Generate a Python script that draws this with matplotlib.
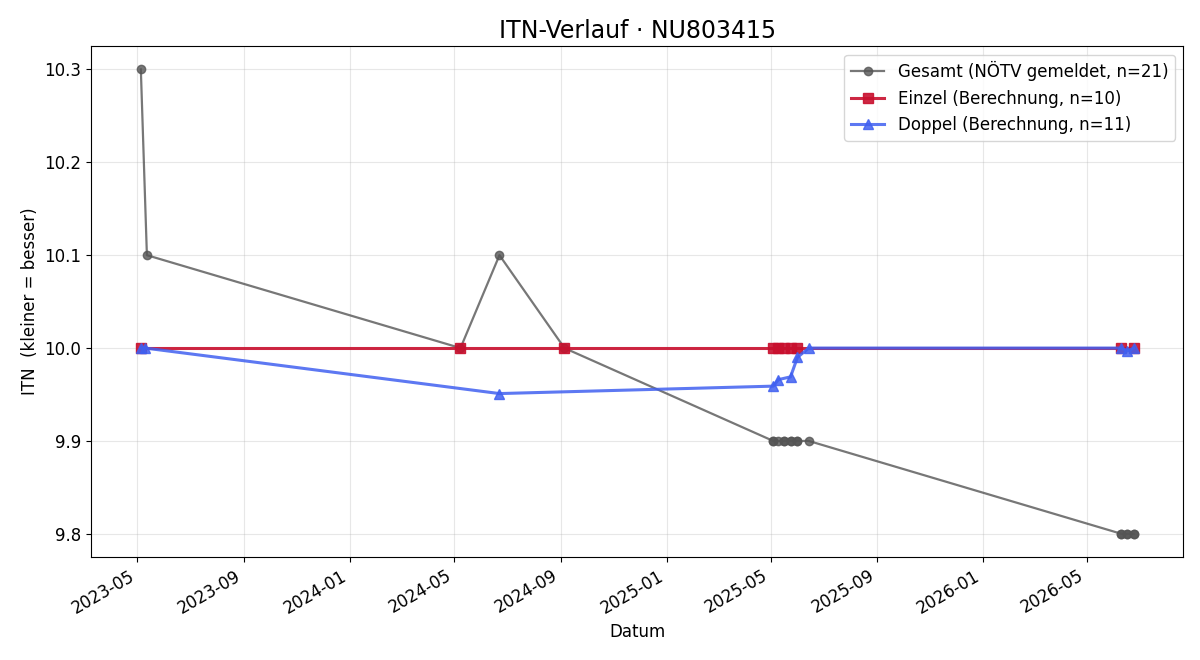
import matplotlib
matplotlib.use('Agg')
import matplotlib.pyplot as plt
import matplotlib.dates as mdates
import pandas as pd

plt.rcParams['font.size'] = 12

# Gesamt (NÖTV gemeldet)
gesamt_dates = ['2023-05-05', '2023-05-12', '2024-05-08', '2024-06-22', '2024-09-05',
                '2025-05-04', '2025-05-04', '2025-05-10', '2025-05-17', '2025-05-17',
                '2025-05-24', '2025-05-24', '2025-06-01', '2025-06-01', '2025-06-14',
                '2026-06-10', '2026-06-10', '2026-06-17', '2026-06-17', '2026-06-24',
                '2026-06-24']
gesamt_itn = [10.3, 10.1, 10.0, 10.1, 10.0,
              9.9, 9.9, 9.9, 9.9, 9.9,
              9.9, 9.9, 9.9, 9.9, 9.9,
              9.8, 9.8, 9.8, 9.8, 9.8,
              9.8]

# Einzel (Berechnung)
einzel_dates = ['2023-05-05', '2024-05-08', '2024-09-05', '2025-05-04', '2025-05-10',
                '2025-05-17', '2025-05-24', '2025-06-01', '2026-06-10', '2026-06-24']
einzel_itn = [10.0, 10.0, 10.0, 10.0, 10.0, 10.0, 10.0, 10.0, 10.0, 10.0]

# Doppel (Berechnung)
doppel_dates = ['2023-05-05', '2023-05-10', '2024-06-22', '2025-05-04', '2025-05-10',
                '2025-05-24', '2025-06-01', '2025-06-14', '2026-06-10', '2026-06-17',
                '2026-06-24']
doppel_itn = [10.0, 10.0, 9.951, 9.959, 9.966, 9.969, 9.990, 10.0, 10.0, 9.997, 10.0]


def main():
    fig, ax = plt.subplots(figsize=(12, 6.6), dpi=100)

    ax.plot(pd.to_datetime(gesamt_dates), gesamt_itn, marker='o', ms=6,
            color='#555555', alpha=0.8, lw=1.6,
            label=f'Gesamt (NÖTV gemeldet, n={len(gesamt_itn)})')
    ax.plot(pd.to_datetime(einzel_dates), einzel_itn, marker='s', ms=7,
            color='#c8102e', alpha=0.9, lw=2.2,
            label=f'Einzel (Berechnung, n={len(einzel_itn)})')
    ax.plot(pd.to_datetime(doppel_dates), doppel_itn, marker='^', ms=7,
            color='#4060f0', alpha=0.85, lw=2.2,
            label=f'Doppel (Berechnung, n={len(doppel_itn)})')

    ax.set_title('ITN-Verlauf · NU803415', fontsize=17)
    ax.set_xlabel('Datum')
    ax.set_ylabel('ITN  (kleiner = besser)')

    ax.xaxis.set_major_locator(mdates.MonthLocator(bymonth=[1, 5, 9]))
    ax.xaxis.set_major_formatter(mdates.DateFormatter('%Y-%m'))
    ax.yaxis.set_major_formatter(matplotlib.ticker.FormatStrFormatter('%.1f'))
    ax.grid(True, alpha=0.3)
    ax.legend(loc='upper right')

    fig.autofmt_xdate(rotation=30)
    fig.subplots_adjust(left=0.076, right=0.986, top=0.930, bottom=0.156)
    fig.savefig('out.png', dpi=100)


if __name__ == '__main__':
    main()
